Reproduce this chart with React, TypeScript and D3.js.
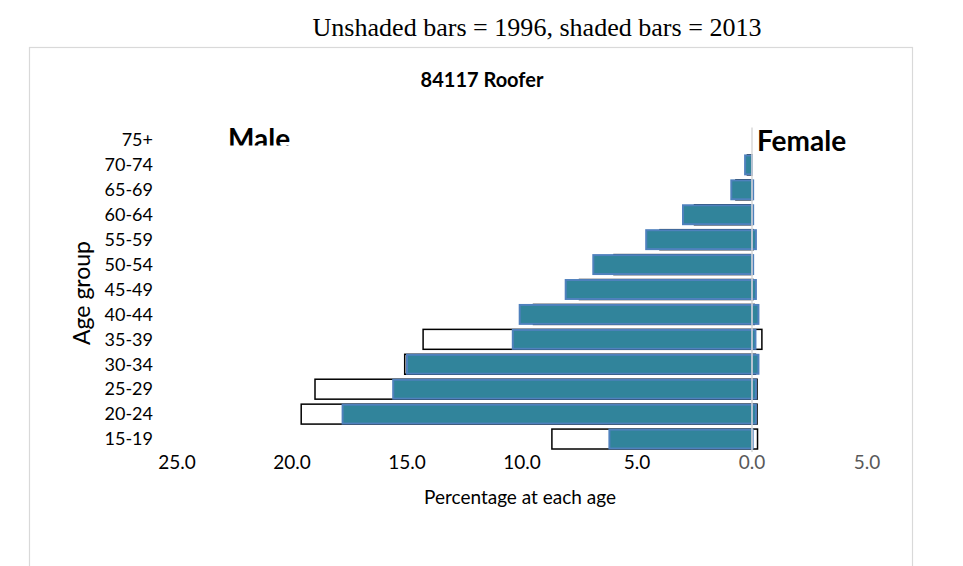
import React from "react";
import * as d3 from "d3";

const categories = ["15-19", "20-24", "25-29", "30-34", "35-39", "40-44", "45-49", "50-54", "55-59", "60-64", "65-69", "70-74", "75+"];
const male2013 = [6.2, 17.8, 15.6, 15.0, 10.4, 10.1, 8.1, 6.9, 4.6, 3.0, 0.9, 0.3, 0];
const male1996 = [8.7, 19.6, 19.0, 15.1, 14.3, 9.5, 7.5, 6.0, 4.0, 2.5, 0.7, 0.2, 0];
const female2013 = [0.03, 0.17, 0.17, 0.28, 0.15, 0.28, 0.17, 0.05, 0.17, 0.05, 0.05, 0.0, 0];
const female1996 = [0.24, 0.22, 0.22, 0.15, 0.43, 0.1, 0.05, 0.0, 0.05, 0.0, 0.0, 0.0, 0];
const xTicks = [-25, -20, -15, -10, -5, 0, 5];

const W = 963;
const H = 566;
const FONT = "Lato, 'Open Sans', sans-serif";

export default function App() {
  const x = d3.scaleLinear().domain([-25, 5]).range([177, 867]);
  const y = d3
    .scaleBand<string>()
    .domain([...categories].reverse())
    .range([127.5, 451.5])
    .paddingInner(0.2)
    .paddingOuter(0.1);
  const bw = y.bandwidth();
  const x0 = x(0);
  const fmt = (v: number) => Math.abs(v).toFixed(1);

  return (
    <svg width={W} height={H} style={{ position: "absolute", left: 0, top: 0, background: "#fff" }}>
      <defs>
        <clipPath id="maleClip">
          <rect x={150} y={100} width={300} height={45.5} />
        </clipPath>
      </defs>
      <text x={537} y={36} textAnchor="middle" fontFamily="'Liberation Serif', serif" fontSize={25} fill="#000" textLength={449} lengthAdjust="spacingAndGlyphs">
        Unshaded bars = 1996, shaded bars = 2013
      </text>
      <rect x={29.5} y={47.5} width={883} height={600} fill="#fff" stroke="#d9d9d9" strokeWidth={1.2} />
      <text x={482} y={87} textAnchor="middle" fontFamily={FONT} fontWeight="bold" fontSize={20} fill="#000">
        84117 Roofer
      </text>

      {/* 1996 outlines */}
      {categories.map((c, i) => (
        <g key={"o" + c}>
          {male1996[i] > 0 && (
            <rect x={x(-male1996[i])} y={y(c)!} width={x0 - x(-male1996[i])} height={bw} fill="#fff" stroke="#000" strokeWidth={1.5} />
          )}
          {female1996[i] > 0 && (
            <rect x={x0} y={y(c)!} width={x(female1996[i]) - x0} height={bw} fill="#fff" stroke="#000" strokeWidth={1.5} />
          )}
        </g>
      ))}
      {/* 2013 shaded */}
      {categories.map((c, i) => (
        <g key={"s" + c}>
          {male2013[i] > 0 && (
            <rect x={x(-male2013[i])} y={y(c)! + 0.5} width={x0 - x(-male2013[i])} height={bw - 1} fill="#31849B" stroke="#4F81BD" strokeWidth={2} />
          )}
          {female2013[i] > 0 && (
            <rect x={x0} y={y(c)! + 0.5} width={x(female2013[i]) - x0} height={bw - 1} fill="#31849B" stroke="#4F81BD" strokeWidth={2} />
          )}
        </g>
      ))}
      <line x1={x0} x2={x0} y1={127.5} y2={452} stroke="#d9d9d9" strokeWidth={1.5} />

      {categories.map((c) => (
        <text key={"l" + c} x={153} y={y(c)! + bw / 2} dy="0.35em" textAnchor="end" fontFamily={FONT} fontSize={18} fill="#000">
          {c}
        </text>
      ))}
      {xTicks.map((t) => (
        <text key={"t" + t} x={x(t)} y={469} textAnchor="middle" fontFamily={FONT} fontSize={19} fill={t >= 0 ? "#595959" : "#000"}>
          {fmt(t)}
        </text>
      ))}
      <text x={520} y={504} textAnchor="middle" fontFamily={FONT} fontSize={19} fill="#000">
        Percentage at each age
      </text>
      <text transform={`translate(90,293) rotate(-90)`} textAnchor="middle" fontFamily={FONT} fontSize={23} fill="#000">
        Age group
      </text>
      <g clipPath="url(#maleClip)">
        <text x={228} y={149} fontFamily={FONT} fontWeight="bold" fontSize={28} fill="#000">
          Male
        </text>
      </g>
      <text x={757} y={151} fontFamily={FONT} fontWeight="bold" fontSize={28} fill="#000">
        Female
      </text>
    </svg>
  );
}
